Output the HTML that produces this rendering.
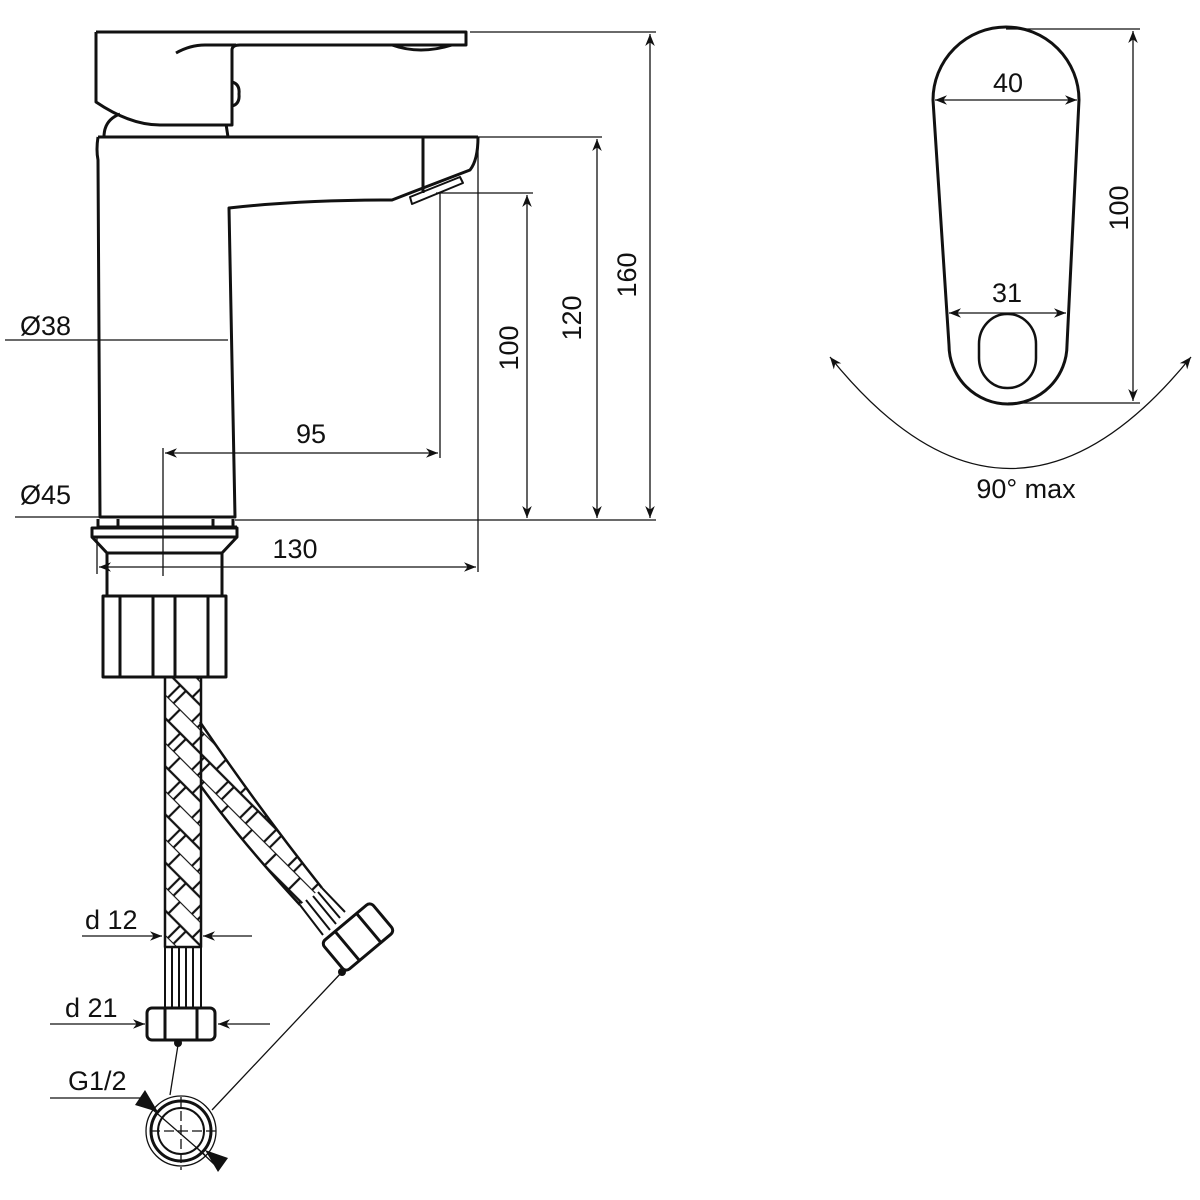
<!DOCTYPE html>
<html><head><meta charset="utf-8"><style>
html,body{margin:0;padding:0;background:#fff}
svg{display:block}
text{font-family:"Liberation Sans","DejaVu Sans",sans-serif;font-size:27px;fill:#111}
</style></head><body>
<svg width="1200" height="1200" viewBox="0 0 1200 1200" xmlns="http://www.w3.org/2000/svg">
<defs>
<marker id="a" viewBox="0 0 10 10" refX="10" refY="5" markerWidth="12" markerHeight="12" markerUnits="userSpaceOnUse" orient="auto-start-reverse"><path d="M0,1 L10,5 L0,9 L3,5Z" fill="#111"/></marker>
<pattern id="br" width="34" height="34" patternUnits="userSpaceOnUse" patternTransform="rotate(45)">
<path d="M0,0 H34 M17,0 V17 M0,17 H34 M0,17 V34 M34,17 V34 M8,17 V34" stroke="#111" stroke-width="2.2" fill="none"/>
</pattern>
<clipPath id="c1"><rect x="165" y="677" width="36" height="270"/></clipPath>
<clipPath id="c2"><path d="M200,722 Q260,810 322,888 L300,905 Q240,840 200,785Z"/></clipPath>
</defs>
<g fill="none" stroke="#111" stroke-width="3" stroke-linejoin="round">
<path d="M96,32 H466 V45 H240"/>
<path d="M176,53 Q190,45 205,45 H236"/>
<path d="M96,32 V102 Q130,125 160,125 H232 V50 Q232,45 240,45"/>
<path d="M232,82 Q240,84 239,94 Q240,104 232,106"/>
<path d="M392,45 Q420,55 452,45"/>
<path d="M104,137 Q104,120 120,114 M226,124 L228,137"/>
<path d="M98,137 H478"/>
<path d="M98,137 Q96,150 98,160 L100,517 H235 L229,208 Q300,200 392,200 L410,193 L470,170 Q478,160 478,137"/>
<path d="M423,137 V193"/>
<path d="M410,197 L460,177 L463,183 L412,204Z" stroke-width="2"/>
<path d="M98,519 V527 M118,519 V527 M213,519 V527 M233,519 V527 M98,527 H237"/>
<rect x="92" y="528" width="145" height="9"/>
<path d="M92,537 L107,553 H222 L237,537"/>
<path d="M107,553 V596 M222,553 V596"/>
<rect x="103" y="596" width="123" height="81"/>
<path d="M120,596 V677 M153,596 V677 M175,596 V677 M208,596 V677"/>
<rect x="165" y="677" width="36" height="270" stroke-width="2.5"/>
<path d="M165,947 V1008 M201,947 V1008 M172,947 V1008 M179,947 V1008 M186,947 V1008 M193,947 V1008" stroke-width="2"/>
<rect x="147" y="1008" width="68" height="32" rx="5"/>
<path d="M165,1008 V1040 M197,1008 V1040"/>
<path d="M200,722 Q260,810 322,888 M200,785 Q240,840 300,905" stroke-width="2.5"/>
<path d="M322,888 L345,912 M300,905 L323,935 M313,896 L336,924 M306,900 L330,930 M318,892 L340,918" stroke-width="2"/>
<g transform="translate(358,937) rotate(-40)">
<rect x="-32" y="-19" width="64" height="38" rx="5"/>
<path d="M-14,-19 V19 M14,-19 V19"/>
</g>
</g>
<rect x="165" y="677" width="36" height="270" fill="url(#br)" clip-path="url(#c1)"/>
<path d="M200,722 Q260,810 322,888 L300,905 Q240,840 200,785Z" fill="url(#br)" clip-path="url(#c2)"/>
<g fill="none" stroke="#111" stroke-width="1.3">
<path d="M470,32 H656 M478,137 H602 M436,193 H533 M235,520 H656"/>
<path d="M650,34 V518" marker-start="url(#a)" marker-end="url(#a)"/>
<path d="M597,139 V518" marker-start="url(#a)" marker-end="url(#a)"/>
<path d="M527,195 V518" marker-start="url(#a)" marker-end="url(#a)"/>
<path d="M440,193 V458 M163,448 V576 M478,137 V572 M97,537 V574"/>
<path d="M165,453 H438" marker-start="url(#a)" marker-end="url(#a)"/>
<path d="M99,567 H476" marker-start="url(#a)" marker-end="url(#a)"/>
<path d="M5,340 H228 M15,517 H100"/>
<path d="M82,936 H162" marker-end="url(#a)"/>
<path d="M252,936 H203" marker-end="url(#a)"/>
<path d="M50,1024 H145" marker-end="url(#a)"/>
<path d="M270,1024 H218" marker-end="url(#a)"/>
<path d="M50,1098 H140 L158,1112 M197,1148 L215,1165"/>
<path d="M178,1045 L170,1095 M342,972 L212,1110"/>
<path d="M150,1131 H220 M181,1097 V1170" stroke-dasharray="10,4"/>
<path d="M152,1109 L205,1155"/>
</g>
<circle cx="178" cy="1043" r="4" fill="#111"/>
<circle cx="342" cy="972" r="4" fill="#111"/>
<path d="M145,1090 L158,1112 L135,1105Z M218,1172 L205,1150 L228,1158Z" fill="#111"/>
<g fill="none" stroke="#111">
<circle cx="181" cy="1131" r="35" stroke-width="1.3"/>
<circle cx="181" cy="1131" r="30" stroke-width="3"/>
<circle cx="181" cy="1131" r="23" stroke-width="2"/>
</g>
<g fill="none" stroke="#111" stroke-width="3">
<path d="M933,100 A73,73 0 0 1 1079,100 L1067,345 A59,59 0 0 1 949,345 Z"/>
<rect x="979" y="314" width="57" height="74" rx="28" ry="30" stroke-width="2.5"/>
</g>
<g fill="none" stroke="#111" stroke-width="1.3">
<path d="M1006,29 H1140 M1008,403 H1140"/>
<path d="M1133,31 V401" marker-start="url(#a)" marker-end="url(#a)"/>
<path d="M935,100 H1077" marker-start="url(#a)" marker-end="url(#a)"/>
<path d="M949,313 H1066" marker-start="url(#a)" marker-end="url(#a)"/>
<path d="M830,357 Q1010,580 1191,357" marker-start="url(#a)" marker-end="url(#a)"/>
</g>
<text x="1008" y="92" text-anchor="middle">40</text>
<text x="1007" y="302" text-anchor="middle">31</text>
<text x="1026" y="498" text-anchor="middle">90° max</text>
<text transform="translate(1128,208) rotate(-90)" text-anchor="middle">100</text>
<text transform="translate(636,275) rotate(-90)" text-anchor="middle">160</text>
<text transform="translate(581,318) rotate(-90)" text-anchor="middle">120</text>
<text transform="translate(518,348) rotate(-90)" text-anchor="middle">100</text>
<text x="311" y="443" text-anchor="middle">95</text>
<text x="295" y="558" text-anchor="middle">130</text>
<text x="20" y="335">Ø38</text>
<text x="20" y="504">Ø45</text>
<text x="85" y="929">d 12</text>
<text x="65" y="1017">d 21</text>
<text x="68" y="1090">G1/2</text>
</svg>
</body></html>
